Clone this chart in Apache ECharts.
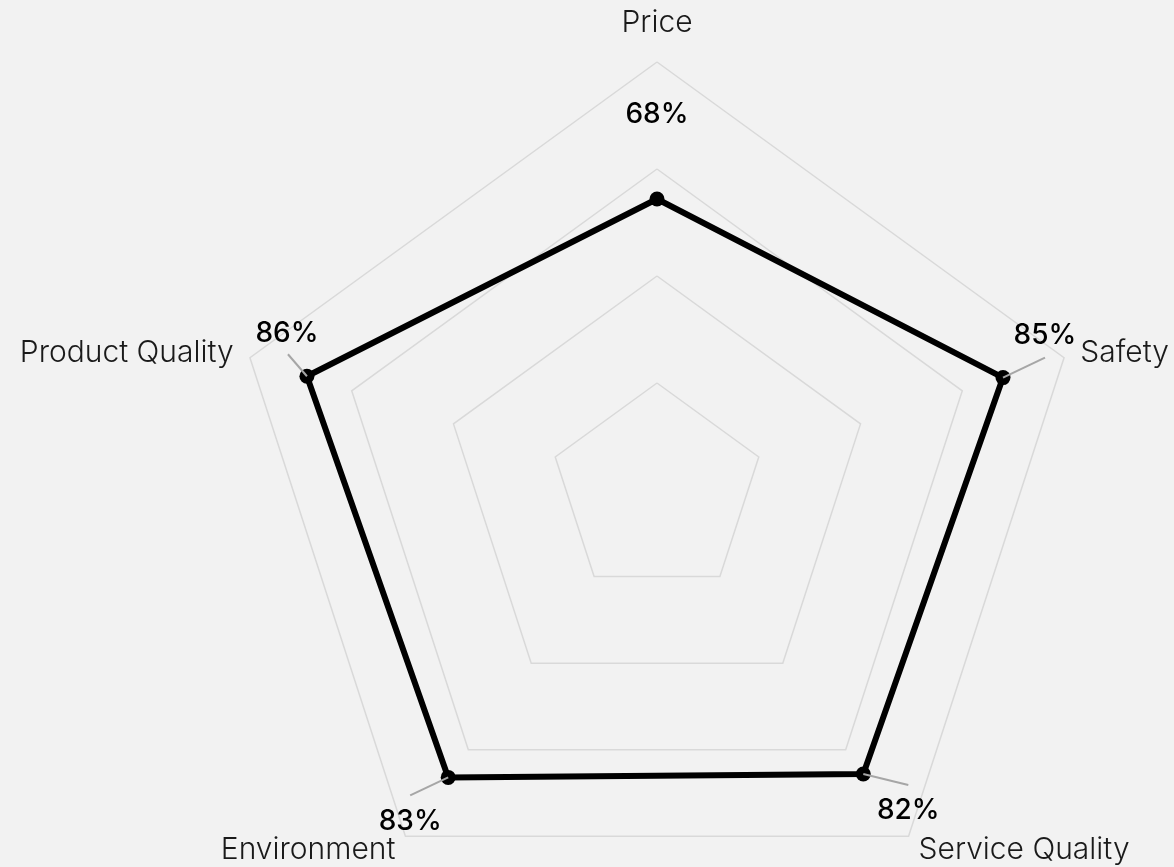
<!DOCTYPE html>
<html><head><meta charset="utf-8">
<script src="https://cdn.jsdelivr.net/npm/echarts@6/dist/echarts.min.js"></script>
<style>html,body{margin:0;padding:0;background:#f2f2f2}#chart{width:1174px;height:867px}</style>
</head><body><div id="chart"></div>
<script>
// Indicators listed clockwise starting at the top
const categories = ['Price', 'Safety', 'Service Quality', 'Environment', 'Product Quality'];
const values = [68, 85, 82, 83, 86];
const axisMin = 0;
const axisMax = 100;
const labelTexts = values.map(v => v + '%');

// Style/layout: pixel offsets from each point to the leader-line end and the label centre
const leaderEnd = [[0, 0], [42, -20], [45, 11], [-38, 18], [-19, -22]];
const labelOffset = [[0, -84], [42, -42], [45, 37], [-38, 44], [-20, -43]];

const CENTER = [657, 490], RADIUS = 428;
const FONT = 'Inter, "Noto Sans", sans-serif';
const n = categories.length;
// radar places indicators counter-clockwise, so reorder for a clockwise layout
const ccwOrder = categories.map((_, i) => (n - i) % n);

const nameStyle = { color: '#1a1a1a', fontSize: 30, fontFamily: FONT, fontWeight: 300 };

const chart = echarts.init(document.getElementById('chart'));
chart.setOption({
  backgroundColor: '#f2f2f2',
  animation: false,
  radar: {
    center: CENTER,
    radius: RADIUS,
    shape: 'polygon',
    splitNumber: 4,
    startAngle: 90,
    nameGap: 17,
    indicator: ccwOrder.map(k => ({ name: categories[k], min: axisMin, max: axisMax })),
    axisName: Object.assign({}, nameStyle, {
      formatter: name => name === categories[0] ? '{top|' + name + '}' : name,
      rich: { top: Object.assign({}, nameStyle, { padding: [0, 0, 7, 0] }) }
    }),
    axisLine: { show: false },
    axisTick: { show: false },
    axisLabel: { show: false },
    splitArea: { show: false },
    splitLine: { lineStyle: { color: '#d9d9d9', width: 1.5 } }
  },
  polar: { center: CENTER, radius: RADIUS },
  angleAxis: { type: 'value', min: 0, max: 360, startAngle: 90, clockwise: true, show: false },
  radiusAxis: { type: 'value', min: axisMin, max: axisMax, show: false },
  series: [
    {
      type: 'radar',
      z: 2,
      symbol: 'circle',
      symbolSize: 15,
      lineStyle: { color: '#000', width: 6 },
      itemStyle: { color: '#000' },
      data: [{ value: ccwOrder.map(k => values[k]), name: 'Score' }]
    },
    {
      type: 'custom',
      coordinateSystem: 'polar',
      z: 4,
      dimensions: ['radius', 'angle'],
      encode: { radius: 0, angle: 1 },
      data: values.map((v, i) => [v, i * 360 / n]),
      renderItem: function (params, api) {
        const i = params.dataIndex;
        const p = api.coord([api.value(0), api.value(1)]);
        const le = leaderEnd[i], lo = labelOffset[i];
        const children = [];
        if (le[0] !== 0 || le[1] !== 0) {
          children.push({ type: 'line', shape: { x1: p[0], y1: p[1], x2: p[0] + le[0], y2: p[1] + le[1] },
            style: { stroke: '#a6a6a6', lineWidth: 2 } });
        }
        children.push({ type: 'text', x: p[0] + lo[0], y: p[1] + lo[1],
          style: { text: labelTexts[i], fill: '#000', fontSize: 28, fontFamily: FONT, fontWeight: 500,
            align: 'center', verticalAlign: 'middle' } });
        return { type: 'group', children: children };
      }
    }
  ]
});
</script></body></html>
